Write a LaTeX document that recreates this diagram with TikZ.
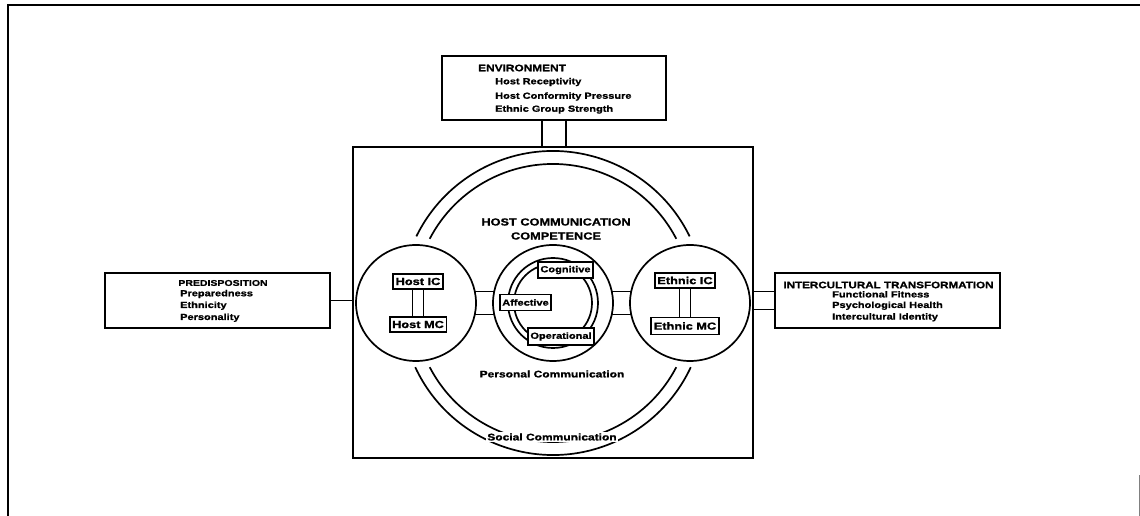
\documentclass[tikz,border=0pt]{standalone}
\usepackage{fontspec}
\newfontfamily\figfont[FakeStretch=1.25,BoldFeatures={FakeStretch=1.25,FakeBold=1.2}]{Liberation Sans}
\newcommand\tf[1]{\figfont\bfseries\fontsize{#1}{14}\selectfont}
\usetikzlibrary{shapes.geometric,backgrounds}
\begin{document}
\begin{tikzpicture}[x=1pt,y=1pt,
  ln/.style={line width=1.7pt},
  frame/.style={draw,line width=1.7pt,rectangle,inner sep=0pt},
  tag/.style={draw,fill=white,line width=1.7pt,inner xsep=2.5pt,inner ysep=0pt,minimum height=15pt},
  orb/.style={draw,fill=white,ellipse,line width=1.7pt,minimum width=120pt,minimum height=116pt,inner sep=0pt},
  txt/.style={inner sep=0pt}
]
\useasboundingbox (0,0) rectangle (1140,516);

% page frame
\draw[ln] (8,0) -- (8,511) -- (1140,511);
\draw[line width=1pt,gray] (1139,0) -- (1139,41);

% outer boxes
\node[frame,minimum width=224pt,minimum height=64pt] (env) at (554,428) {};
\node[txt,anchor=west,font=\tf{9.5}] (envT) at (478,448) {ENVIRONMENT};
\node[txt,anchor=west,font=\tf{8.8}] (env1) at (495,434) {Host Receptivity};
\node[txt,anchor=west,font=\tf{8.8}] (env2) at (495,419.5) {Host Conformity Pressure};
\node[txt,anchor=west,font=\tf{8.8}] (env3) at (495,406.5) {Ethnic Group Strength};

\node[frame,minimum width=225pt,minimum height=55pt] (predis) at (217.5,215.5) {};
\node[txt,font=\tf{8.4}] (predisT) at (223,233) {PREDISPOSITION};
\node[txt,anchor=west,font=\tf{8.8}] (pre1) at (180,222) {Preparedness};
\node[txt,anchor=west,font=\tf{8.8}] (pre2) at (180,210.3) {Ethnicity};
\node[txt,anchor=west,font=\tf{8.8}] (pre3) at (180,198.3) {Personality};

\node[frame,minimum width=225pt,minimum height=55pt] (trans) at (887.5,215.5) {};
\node[txt,font=\tf{9.3}] (transT) at (888.5,231) {INTERCULTURAL TRANSFORMATION};
\node[txt,anchor=west,font=\tf{8.8}] (tr1) at (832,221.7) {Functional Fitness};
\node[txt,anchor=west,font=\tf{8.8}] (tr2) at (832,210.3) {Psychological Health};
\node[txt,anchor=west,font=\tf{8.8}] (tr3) at (832,198.7) {Intercultural Identity};

\node[frame,minimum width=400pt,minimum height=311pt] (big) at (553,213.5) {};

% connectors to the central box
\draw[ln] ([xshift=-12pt]env.south) -- ([xshift=-12pt]env.south |- big.north);
\draw[ln] ([xshift=12pt]env.south) -- ([xshift=12pt]env.south |- big.north);
\draw[ln] (predis.east) -- (predis.east -| big.west);
\draw[ln] ([yshift=9pt]trans.west) -- ([yshift=9pt]trans.west -| big.east);
\draw[ln] ([yshift=-9pt]trans.west) -- ([yshift=-9pt]trans.west -| big.east);

% large double arcs
\coordinate (hub) at (553,213);
\draw[ln] (hub) ++(26:152) arc[start angle=26,end angle=154,radius=152];
\draw[ln] (hub) ++(27.5:139) arc[start angle=27.5,end angle=152.5,radius=139];
\draw[ln] (hub) ++(205:152) arc[start angle=205,end angle=335,radius=152];
\draw[ln] (hub) ++(207.5:139) arc[start angle=207.5,end angle=332.5,radius=139];

% circles
\node[orb] (hostc) at (416,213) {};
\node[orb] (compc) at (553,213) {};
\node[orb] (ethc) at (690,213) {};
\begin{scope}[on background layer]
\draw[ln] ([yshift=11.5pt]hostc.center) -- ([yshift=11.5pt]compc.center);
\draw[ln] ([yshift=-11.5pt]hostc.center) -- ([yshift=-11.5pt]compc.center);
\draw[ln] ([yshift=11.5pt]compc.center) -- ([yshift=11.5pt]ethc.center);
\draw[ln] ([yshift=-11.5pt]compc.center) -- ([yshift=-11.5pt]ethc.center);
\end{scope}

% inner ring
\draw[ln] (compc.center) circle[radius=45];
\draw[ln] (compc.center) circle[radius=39];

% labels in circles
\node[tag,font=\tf{10.2}] (hostic) at (418,234.5) {Host IC};
\node[tag,font=\tf{10.2}] (hostmc) at (418,191.5) {Host MC};
\draw[ln] ([xshift=-5.5pt]hostic.south) -- ([xshift=-5.5pt]hostic.south |- hostmc.north);
\draw[ln] ([xshift=5.5pt]hostic.south) -- ([xshift=5.5pt]hostic.south |- hostmc.north);

\node[tag,font=\tf{10.2}] (ethic) at (685,235.5) {Ethnic IC};
\node[tag,font=\tf{10.2},minimum height=17pt] (ethmc) at (685,190) {Ethnic MC};
\draw[ln] ([xshift=-5.5pt]ethic.south) -- ([xshift=-5.5pt]ethic.south |- ethmc.north);
\draw[ln] ([xshift=5.5pt]ethic.south) -- ([xshift=5.5pt]ethic.south |- ethmc.north);

\node[tag,font=\tf{8.8},minimum height=16pt] (cog) at (565.5,246) {Cognitive};
\node[tag,font=\tf{8.8},minimum height=16pt] (aff) at (525.5,213.5) {Affective};
\node[tag,font=\tf{8.8},minimum height=17pt] (oper) at (561,179.5) {Operational};

% free texts
\node[txt,align=center,font=\tf{10.2}] (hcc) at (556,287) {HOST COMMUNICATION\\COMPETENCE};
\node[txt,font=\tf{9.6}] (pers) at (552,142) {Personal Communication};
\node[txt,font=\tf{9.6},fill=white,inner sep=1.5pt] (soc) at (552,79) {Social Communication};
\end{tikzpicture}
\end{document}
